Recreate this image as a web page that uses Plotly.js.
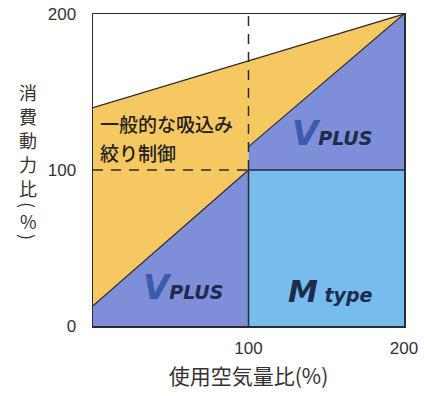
<!DOCTYPE html>
<html>
<head>
<meta charset="utf-8">
<script src="https://cdn.plot.ly/plotly-3.0.1.min.js"></script>
<style>html,body{margin:0;padding:0;background:#fff;}#chart{width:424px;height:396px;}</style>
</head>
<body>
<div id="chart"></div>
<script>
// Air-usage ratio (%) on x, power-consumption ratio (%) on y
const airRatio = [0, 100, 200];
const conventionalThrottle = [140, 170, 200];   // 一般的な吸込み絞り制御 (top line)
const vplusLowX = [0, 100];
const vplusLow = [13, 100];                      // VPLUS lower segment
const vplusHighX = [100, 200];
const vplusHigh = [115, 200];                    // VPLUS upper segment
const mtypeX = [100, 200];
const mtypeLevel = [100, 100];                   // M type ceiling
const xTicks = [100, 200];
const yTicks = [0, 100, 200];
const yTitleChars = ['消', '費', '動', '力', '比', '(', '%', ')'];

const yellow = 'rgb(246,200,98)';
const darkBlue = 'rgb(126,142,216)';
const lightBlue = 'rgb(118,188,236)';
const lineCol = '#2b2b33';

const x0 = airRatio[0], x1 = airRatio[1], x2 = airRatio[2];

const traces = [
  {x: [x0, x2, vplusHighX[0], x1, vplusLowX[0]],
   y: [conventionalThrottle[0], conventionalThrottle[2], vplusHigh[0], vplusLow[1], vplusLow[0]],
   fill: 'toself', fillcolor: yellow, mode: 'none', hoverinfo: 'skip'},
  {x: [x0, x1, x1, x0], y: [0, 0, vplusLow[1], vplusLow[0]],
   fill: 'toself', fillcolor: darkBlue, mode: 'none', hoverinfo: 'skip'},
  {x: [mtypeX[0], mtypeX[1], vplusHighX[1], vplusHighX[0]],
   y: [mtypeLevel[0], mtypeLevel[1], vplusHigh[1], vplusHigh[0]],
   fill: 'toself', fillcolor: darkBlue, mode: 'none', hoverinfo: 'skip'},
  {x: [mtypeX[0], mtypeX[1], mtypeX[1], mtypeX[0]], y: [0, 0, mtypeLevel[1], mtypeLevel[0]],
   fill: 'toself', fillcolor: lightBlue, mode: 'none', hoverinfo: 'skip'},
  {x: [x0, x2], y: [conventionalThrottle[0], conventionalThrottle[2]], mode: 'lines',
   line: {color: lineCol, width: 1.2}, hoverinfo: 'skip'},
  {x: vplusLowX, y: vplusLow, mode: 'lines', line: {color: lineCol, width: 1.2}, hoverinfo: 'skip'},
  {x: vplusHighX, y: vplusHigh, mode: 'lines', line: {color: lineCol, width: 1.2}, hoverinfo: 'skip'},
  {x: mtypeX, y: mtypeLevel, mode: 'lines', line: {color: lineCol, width: 1.5}, hoverinfo: 'skip'},
  {x: [x1, x1], y: [0, mtypeLevel[0]], mode: 'lines', line: {color: lineCol, width: 1.5}, hoverinfo: 'skip'},
  {x: [x0, x1], y: [mtypeLevel[0], mtypeLevel[0]], mode: 'lines',
   line: {color: lineCol, width: 1.5, dash: '10px,8px'}, hoverinfo: 'skip'},
  {x: [x1, x1], y: [mtypeLevel[0], x2], mode: 'lines',
   line: {color: lineCol, width: 1.5, dash: '10px,8px'}, hoverinfo: 'skip'}
];

const cjk = '"Noto Sans CJK JP", "Noto Sans CJK SC", sans-serif';
const brand = '"DejaVu Sans", sans-serif';
const navy = '#1d2b4c';

function vplusText() {
  return '<b><i><span style="font-size:34px;color:#3a5cab">V</span><span style="font-size:19px;color:' + navy + '">PLUS</span></i></b>';
}

// vertical y-axis title: pixel centres of each character (plot spans y 14..326)
const yTitlePix = [92, 116, 140, 164, 188, 205, 221, 237];
const plotTop = 14, plotH = 312;
const yTitleAnn = yTitleChars.map((c, i) => ({
  x: -0.209, y: (plotTop + plotH - yTitlePix[i]) / plotH, xref: 'paper', yref: 'paper',
  text: c, showarrow: false, xanchor: 'center', yanchor: 'middle', borderpad: 0,
  textangle: (c === '(' || c === ')') ? 90 : 0,
  font: {family: cjk, size: 18, color: '#333'}
}));

const layout = {
  width: 424, height: 396,
  margin: {l: 93, r: 20, t: 14, b: 70},
  paper_bgcolor: '#fff', plot_bgcolor: '#fff',
  showlegend: false,
  xaxis: {
    range: [0, 200], tickvals: xTicks, ticktext: xTicks.map(String),
    showgrid: false, zeroline: false,
    showline: true, mirror: true, linecolor: lineCol, linewidth: 1.5,
    ticks: 'outside', ticklen: 6, tickcolor: 'rgba(0,0,0,0)',
    tickfont: {family: '"Liberation Sans", Arial, sans-serif', size: 17, color: '#333'},
    title: {text: '使用空気量比(%)', font: {family: cjk, size: 21, color: '#333'}, standoff: 12}
  },
  yaxis: {
    range: [0, 200], tickvals: yTicks, ticktext: yTicks.map(String),
    showgrid: false, zeroline: false,
    showline: true, mirror: true, linecolor: lineCol, linewidth: 1.5,
    ticks: 'outside', ticklen: 12, tickcolor: 'rgba(0,0,0,0)',
    tickfont: {family: '"Liberation Sans", Arial, sans-serif', size: 17, color: '#333'}
  },
  annotations: [
    {x: 3.5, y: 130, xref: 'x', yref: 'y', text: '一般的な吸込み', showarrow: false,
     xanchor: 'left', yanchor: 'middle', font: {family: cjk, size: 19, color: '#222', weight: 500}},
    {x: 3.5, y: 111.5, xref: 'x', yref: 'y', text: '絞り制御', showarrow: false,
     xanchor: 'left', yanchor: 'middle', font: {family: cjk, size: 19, color: '#222', weight: 500}},
    {x: 31, y: 25, xref: 'x', yref: 'y', text: vplusText(), showarrow: false,
     xanchor: 'left', yanchor: 'middle', font: {family: brand, size: 19, color: navy}},
    {x: 127, y: 124, xref: 'x', yref: 'y', text: vplusText(), showarrow: false,
     xanchor: 'left', yanchor: 'middle', font: {family: brand, size: 19, color: navy}},
    {x: 124, y: 22, xref: 'x', yref: 'y',
     text: '<b><i><span style="font-size:30px">M</span> <span style="font-size:19px">type</span></i></b>',
     showarrow: false, xanchor: 'left', yanchor: 'middle', font: {family: brand, size: 19, color: navy}}
  ].concat(yTitleAnn)
};

Plotly.newPlot('chart', traces, layout, {displayModeBar: false, staticPlot: true});
</script>
</body>
</html>
